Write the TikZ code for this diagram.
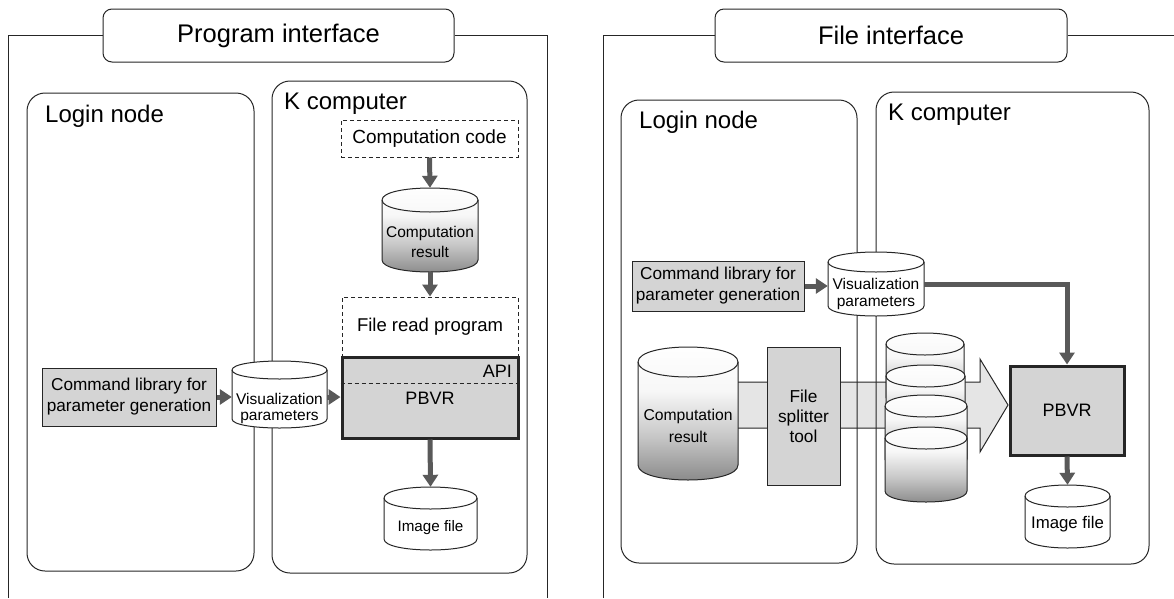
\documentclass[tikz,border=0pt]{standalone}
\usepackage{fontspec}
\setmainfont{Liberation Sans}
\usetikzlibrary{arrows.meta}
\newcommand{\fs}[1]{\fontsize{#1}{\dimexpr #1pt*6/5\relax}\selectfont}
\pgfdeclareverticalshading{cylshade}{100bp}{color(0bp)=(black!48); color(25bp)=(black!48); color(42bp)=(black!22); color(58bp)=(black!3); color(75bp)=(white); color(100bp)=(white)}
\newcommand{\mycyl}[7]{%
  \path[#7] ({#2},{#4+#6}) -- ({#2},{#5-#6}) .. controls ({#2},{#5+0.333*#6}) and ({#3},{#5+0.333*#6}) .. ({#3},{#5-#6}) -- ({#3},{#4+#6}) .. controls ({#3},{#4-0.333*#6}) and ({#2},{#4-0.333*#6}) .. ({#2},{#4+#6}) -- cycle;
  \draw[ln] ({#2},{#4+#6}) .. controls ({#2},{#4+2.333*#6}) and ({#3},{#4+2.333*#6}) .. ({#3},{#4+#6});
  \node[inner sep=0, minimum width={#3-#2}, minimum height={#5-#4}] (#1) at ({(#2+#3)/2},{(#4+#5)/2}) {};
}
\tikzset{
  ln/.style={draw=black!85, line width=1pt},
  panel/.style={ln, rounded corners=18pt, inner sep=0},
  titlebox/.style={ln, rounded corners=9pt, fill=white, inner sep=0, font=\fontsize{25.5}{30}\selectfont},
  dbox/.style={draw=black!85, line width=1pt, dash pattern=on 4pt off 3pt, inner sep=0},
  gbox/.style={ln, fill=black!17, inner sep=0, align=center},
  pbox/.style={draw=black!85, line width=3pt, fill=black!17, inner sep=0},
  arr/.style={draw=black!65, line width=5pt, -{Triangle[width=15pt,length=12pt]}},
  lbl/.style={inner sep=0, align=center},
  head/.style={inner sep=0, anchor=west, font=\fontsize{24}{28}\selectfont},
  band/.style={ln, fill=black!10, line join=miter},
  gshade/.style={ln, shading=cylshade},
  wfill/.style={ln, fill=white},
}
\begin{document}
\begin{tikzpicture}[x=1pt, y=-1pt]
\useasboundingbox (0,0) rectangle (1174,598);

% ===================== Left panel: Program interface =====================
\node[titlebox, minimum width=351, minimum height=53] (titleL) at (278.5,35.5) {Program interface};
\draw[ln] (8,598) -- (8,35.5) -- (titleL.west);
\draw[ln] (titleL.east) -- (547,35.5) -- (547,598);

\node[panel, minimum width=227, minimum height=478] (loginL) at (140.5,332) {};
\node[head] (loginLt) at (45,116) {Login node};
\node[panel, minimum width=255, minimum height=492] (kL) at (399.5,327) {};
\node[head] (kLt) at (284,104) {K computer};

\node[dbox, minimum width=177, minimum height=37, font=\fs{19}] (code) at (429.5,138.5) {Computation code};
\mycyl{resL}{382}{478}{188}{272}{12}{gshade}
\node[lbl, font=\fontsize{15.5}{20}\selectfont] (resLt) at (430,242) {Computation\\result};

\node[dbox, minimum width=176, minimum height=60] (readL) at (430,327) {};
\node[lbl, font=\fs{18.5}] (readLt) at (430,327) {File read program};
\node[pbox, minimum width=176, minimum height=81] (pbvrL) at (430,397.5) {};
\draw[black!85, line width=1pt, dash pattern=on 4pt off 3pt] (pbvrL.west |- 0,383) -- (pbvrL.east |- 0,383);
\node[lbl, anchor=east, font=\fs{18}] (api) at (512,371) {API};
\node[lbl, font=\fs{18}] (pbvrLt) at (430,398) {PBVR};

\mycyl{imgL}{384}{477}{487}{550}{11}{wfill}
\node[lbl, font=\fs{15.2}] (imgLt) at (430.5,528) {Image file};

\node[gbox, minimum width=174, minimum height=58, font=\fontsize{17.2}{21}\selectfont] (cmdL) at (129,397) {Command library for\\parameter generation};
\mycyl{visL}{232}{327}{361}{428}{9}{wfill}
\node[lbl, font=\fontsize{15.5}{16}\selectfont] (visLt) at (279.5,408) {Visualization\\parameters};

\draw[arr] (code.south) -- (resL.north);
\draw[arr] (resL.south) -- (readL.north);
\draw[arr] (pbvrL.south) -- (imgL.north);
\draw[arr] (cmdL.east) -- (visL.west |- cmdL.east);
\draw[arr] (visL.east |- cmdL.east) -- (pbvrL.west |- cmdL.east);

% ===================== Right panel: File interface =====================
\node[titlebox, minimum width=352, minimum height=53] (titleR) at (891,35.5) {File interface};
\draw[ln] (603,598) -- (603,35.5) -- (titleR.west);
\draw[ln] (titleR.east) -- (1174,35.5);

% band arrow (behind everything)
\coordinate (bs) at (688,405);
\coordinate (btip) at (1008,405);
\draw[band] (688,382) -- (980,382) -- (980,359) -- (btip) -- (980,452) -- (980,428) -- (688,428) -- cycle;

\node[panel, minimum width=236, minimum height=463] (loginR) at (739,331.5) {};
\node[head] (loginRt) at (639,122) {Login node};
\node[panel, minimum width=273, minimum height=472] (kR) at (1012.5,328) {};
\node[head] (kRt) at (888,115) {K computer};

\node[gbox, minimum width=172, minimum height=50, font=\fontsize{17.2}{21}\selectfont] (cmdR) at (718,286) {Command library for\\parameter generation};
\mycyl{visR}{828}{924}{252}{316}{10}{wfill}
\node[lbl, font=\fontsize{15.5}{17}\selectfont] (visRt) at (876,294) {Visualization\\parameters};

\mycyl{resR}{638}{738}{347}{480}{15}{gshade}
\node[lbl, font=\fontsize{15.7}{22}\selectfont] (resRt) at (688,426) {Computation\\result};
\node[gbox, minimum width=73, minimum height=138, font=\fontsize{17.3}{20}\selectfont] (split) at (803.5,416) {File\\splitter\\tool};

\mycyl{s1}{886}{964}{333}{408}{11}{gshade}
\mycyl{s2}{886}{965}{365}{440}{11}{gshade}
\mycyl{s3}{885}{967}{395}{470}{11}{gshade}
\mycyl{s4}{885}{967}{427}{502}{11}{gshade}

\node[pbox, minimum width=114, minimum height=89, font=\fs{18}] (pbvrR) at (1067,410.5) {PBVR};
\mycyl{imgR}{1025}{1110}{485}{548}{11}{wfill}
\node[lbl, font=\fs{16.8}] (imgRt) at (1067.5,524) {Image file};

\draw[arr] (cmdR.east) -- (visR.west |- cmdR.east);
\draw[arr] (visR.east) -| (pbvrR.north);
\draw[arr] (pbvrR.south) -- (imgR.north);
\end{tikzpicture}
\end{document}
